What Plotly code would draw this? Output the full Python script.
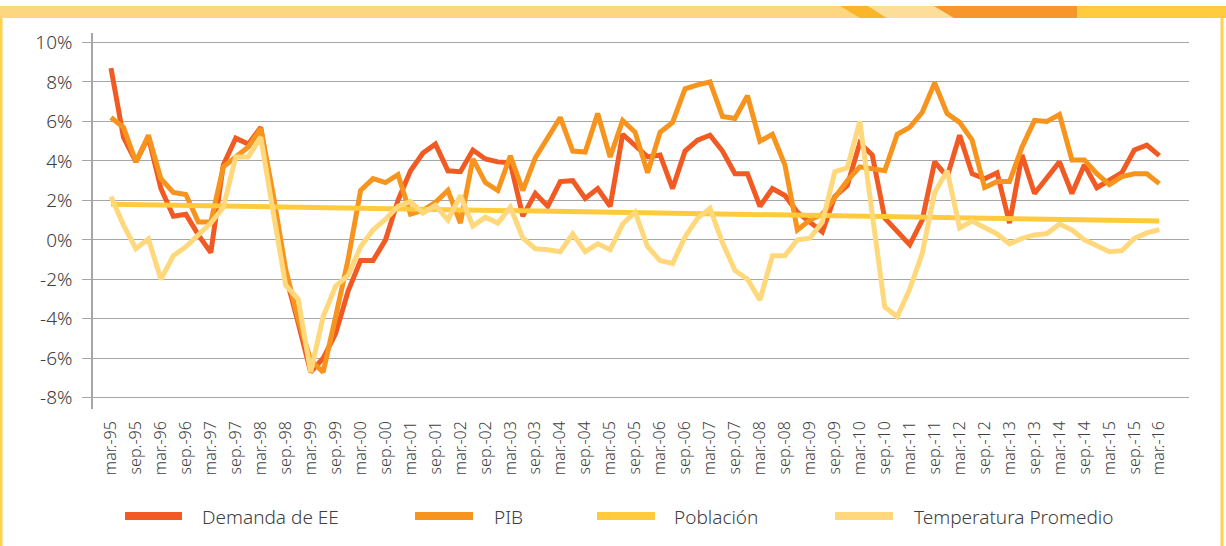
import plotly.graph_objects as go

# ---------------- data ----------------
months = ["mar.", "jun.", "sep.", "dic."]
quarters = []
for yr in range(1995, 2017):
    for m in months:
        quarters.append(f"{m}-{str(yr)[2:]}")
quarters = quarters[:85]
tick_labels = quarters[::2]

demanda = [
    8.7, 5.2, 3.95, 5.2, 2.6, 1.2, 1.3, 0.25, -0.65, 3.8,
    5.15, 4.85, 5.7, 2.0, -1.8, -4.2, -6.7, -6.0, -4.75, -2.6,
    -1.05, -1.05, 0.0, 2.0, 3.5, 4.4, 4.85, 3.5, 3.45, 4.55,
    4.1, 3.95, 3.9, 1.2, 2.35, 1.7, 2.95, 3.0, 2.1, 2.6,
    1.7, 5.35, 4.8, 4.2, 4.3, 2.6, 4.5, 5.05, 5.3, 4.5,
    3.35, 3.35, 1.7, 2.6, 2.25, 1.4, 0.9, 0.4, 2.2, 2.75,
    4.9, 4.3, 1.1, 0.45, -0.25, 1.0, 3.95, 3.2, 5.3, 3.35,
    3.1, 3.4, 0.85, 4.3, 2.35, 3.15, 3.95, 2.35, 3.8, 2.64,
    3.05, 3.4, 4.55, 4.8, 4.27,
]
pib = [
    6.2, 5.7, 3.95, 5.3, 3.1, 2.4, 2.3, 0.9, 0.9, 3.7,
    4.2, 4.7, 5.65, 2.3, -1.5, -4.0, -6.1, -6.7, -3.9, -1.0,
    2.5, 3.1, 2.9, 3.3, 1.3, 1.5, 1.9, 2.5, 0.85, 4.1,
    2.9, 2.5, 4.25, 2.5, 4.15, 5.2, 6.2, 4.5, 4.45, 6.4,
    4.2, 6.05, 5.45, 3.4, 5.45, 5.95, 7.65, 7.85, 8.0, 6.25,
    6.15, 7.3, 5.0, 5.35, 3.8, 0.5, 1.0, 1.3, 2.2, 3.0,
    3.7, 3.6, 3.5, 5.35, 5.7, 6.45, 7.95, 6.4, 5.95, 5.05,
    2.65, 2.95, 2.95, 4.7, 6.05, 6.0, 6.35, 4.05, 4.05, 3.35,
    2.8, 3.2, 3.35, 3.35, 2.85,
]
poblacion = [
    1.80, 1.79, 1.77, 1.76, 1.75, 1.74, 1.72, 1.71, 1.70, 1.69,
    1.67, 1.66, 1.65, 1.64, 1.62, 1.61, 1.60, 1.59, 1.58, 1.57,
    1.56, 1.55, 1.54, 1.53, 1.52, 1.52, 1.51, 1.50, 1.49, 1.48,
    1.47, 1.46, 1.45, 1.44, 1.43, 1.42, 1.41, 1.40, 1.39, 1.38,
    1.37, 1.36, 1.36, 1.35, 1.34, 1.33, 1.32, 1.31, 1.30, 1.29,
    1.28, 1.27, 1.26, 1.25, 1.24, 1.23, 1.22, 1.21, 1.21, 1.20,
    1.19, 1.18, 1.17, 1.16, 1.15, 1.14, 1.13, 1.12, 1.11, 1.10,
    1.09, 1.08, 1.07, 1.06, 1.05, 1.05, 1.04, 1.03, 1.02, 1.01,
    1.00, 0.99, 0.98, 0.97, 0.96,
]
temperatura = [
    2.2, 0.75, -0.45, 0.05, -2.0, -0.8, -0.35, 0.25, 0.85, 1.65,
    4.2, 4.2, 5.2, 1.4, -2.3, -3.0, -6.7, -3.9, -2.35, -1.8,
    -0.35, 0.5, 1.05, 1.7, 1.95, 1.35, 1.75, 1.0, 2.25, 0.7,
    1.15, 0.85, 1.65, 0.1, -0.45, -0.5, -0.6, 0.3, -0.6, -0.2,
    -0.5, 0.8, 1.4, -0.35, -1.05, -1.2, 0.15, 1.1, 1.6, -0.15,
    -1.55, -2.0, -3.05, -0.8, -0.8, 0.0, 0.08, 0.9, 3.45, 3.65,
    6.0, 1.3, -3.4, -3.9, -2.5, -0.7, 2.4, 3.5, 0.6, 0.95,
    0.65, 0.3, -0.2, 0.07, 0.25, 0.32, 0.8, 0.5, 0.0, -0.3,
    -0.6, -0.55, 0.07, 0.35, 0.52,
]

series_names = ["Demanda de EE", "PIB", "Población", "Temperatura Promedio"]
series_values = [demanda, pib, poblacion, temperatura]
series_colors = ["#F15A22", "#F7941D", "#FFCB3D", "#FFD87C"]

# ---------------- layout geometry ----------------
W, H = 1226, 546
ML, MR, MT, MB = 93, 37, 33, 137
PW, PH = W - ML - MR, H - MT - MB


def px(x):
    return (x - ML) / PW


def py(y):
    return (H - MB - y) / PH


FONT = "Noto Sans"
TXT = "#404040"
WEIGHT = 300

fig = go.Figure()
for name, vals, col in zip(series_names, series_values, series_colors):
    fig.add_trace(go.Scatter(
        x=quarters, y=vals, name=name, mode="lines",
        line=dict(color=col, width=5),
        showlegend=False, hoverinfo="skip",
    ))

shapes = []
# top decorative band
band_top, band_bot = 6, 18
shapes.append(dict(type="rect", xref="paper", yref="paper",
                   x0=px(0), x1=px(W), y0=py(band_bot), y1=py(band_top),
                   fillcolor="#FDD780", line=dict(width=0), layer="below"))


def poly(pts, color):
    d = "M " + " L ".join(f"{px(a):.5f},{py(b):.5f}" for a, b in pts) + " Z"
    return dict(type="path", xref="paper", yref="paper", path=d,
                fillcolor=color, line=dict(width=0), layer="below")


shapes.append(poly([(840, band_top), (868, band_top), (887, band_bot), (860, band_bot)], "#FBB52B"))
shapes.append(poly([(868, band_top), (934, band_top), (954, band_bot), (887, band_bot)], "#FCDE9A"))
shapes.append(poly([(934, band_top), (1077, band_top), (1077, band_bot), (954, band_bot)], "#F7962A"))
shapes.append(poly([(1077, band_top), (W, band_top), (W, band_bot), (1077, band_bot)], "#FFCC3F"))
# side borders
shapes.append(dict(type="rect", xref="paper", yref="paper",
                   x0=px(0), x1=px(2.5), y0=py(H), y1=py(band_bot),
                   fillcolor="#FFD24D", line=dict(width=0)))
shapes.append(dict(type="rect", xref="paper", yref="paper",
                   x0=px(1220.5), x1=px(1223.5), y0=py(H), y1=py(band_bot),
                   fillcolor="#FFD24D", line=dict(width=0)))

# custom legend
legend_y = 516
legend_items = [(125, 182, 200), (415, 473, 492), (597, 655, 672), (835, 893, 912)]
annotations = []
for (x0, x1, tx), name, col in zip(legend_items, series_names, series_colors):
    shapes.append(dict(type="line", xref="paper", yref="paper",
                       x0=px(x0), x1=px(x1), y0=py(legend_y), y1=py(legend_y),
                       line=dict(color=col, width=8)))
    annotations.append(dict(xref="paper", yref="paper", x=px(tx), y=py(legend_y + 1),
                            xanchor="left", yanchor="middle", showarrow=False,
                            text=name,
                            font=dict(family=FONT, size=19, color=TXT, weight=WEIGHT)))

fig.update_layout(
    width=W, height=H,
    margin=dict(l=ML, r=MR, t=MT, b=MB, autoexpand=False),
    paper_bgcolor="white", plot_bgcolor="white",
    showlegend=False,
    shapes=shapes,
    annotations=annotations,
    font=dict(family=FONT, color=TXT, weight=WEIGHT),
)
fig.update_xaxes(
    type="category",
    categoryorder="array", categoryarray=quarters,
    range=[-1.44, 86.38],
    tickmode="array", tickvals=tick_labels, ticktext=tick_labels,
    tickangle=-90,
    tickfont=dict(family=FONT, size=16, color=TXT, weight=WEIGHT),
    showgrid=False, showline=False, zeroline=False, ticks="",
    ticklabelstandoff=8,
)
fig.update_yaxes(
    range=[-8.57, 10.48],
    tickmode="array", tickvals=list(range(-8, 11, 2)),
    ticktext=[f"{v}%" for v in range(-8, 11, 2)],
    tickfont=dict(family=FONT, size=19, color=TXT, weight=WEIGHT),
    showgrid=True, gridcolor="#A6A6A6", gridwidth=1.3,
    zeroline=False,
    showline=True, linecolor="#A6A6A6", linewidth=1.5,
    ticks="outside", ticklen=9, tickcolor="#A6A6A6", tickwidth=1.3,
    ticklabelstandoff=6,
)

fig.write_html(
    "out.html",
    config={"displayModeBar": False},
    post_script="document.body.style.margin='0px';document.body.style.overflow='hidden';",
)
